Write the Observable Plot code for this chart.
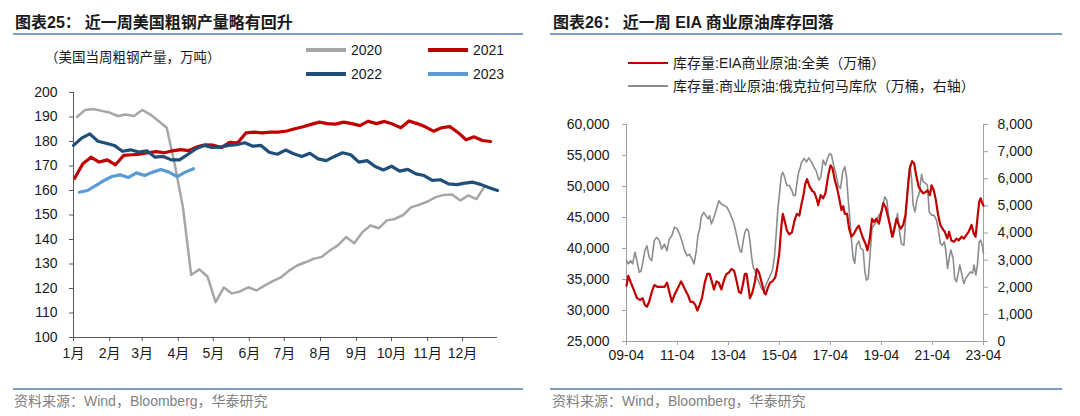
<!DOCTYPE html>
<html><head><meta charset="utf-8">
<script src="https://cdn.jsdelivr.net/npm/d3@7"></script>
<script src="https://cdn.jsdelivr.net/npm/@observablehq/plot@0.6"></script>
<style>
body{margin:0;background:#fff;}
#page{position:relative;width:1080px;height:416px;overflow:hidden;font-family:"Liberation Sans","Noto Sans CJK SC",sans-serif;color:#1a1a1a;background:#fff;}
.abs{position:absolute;}
.title{font-size:16px;font-weight:bold;white-space:nowrap;line-height:16px;}
.rule{height:1.5px;background:#7f9cc6;}
.sub{font-size:13.5px;white-space:nowrap;line-height:14px;}
.leg{font-size:14px;white-space:nowrap;line-height:14px;display:flex;align-items:center;}
.sw{display:inline-block;margin-right:5px;}
.foot{font-size:14px;color:#7f7f7f;white-space:nowrap;line-height:14px;}
.chart svg{overflow:visible;}
</style></head>
<body>
<div id="page">
  <div class="abs title" style="left:15px;top:15px;">图表25：<span style="margin-left:4px">近一周美国粗钢产量略有回升</span></div>
  <div class="abs rule" style="left:13px;top:33px;width:510px;"></div>
  <div class="abs sub" style="left:45px;top:51px;">（美国当周粗钢产量，万吨）</div>
  <div id="legL"></div>
  <div id="chartL" class="abs chart" style="left:0;top:80px;"></div>
  <div class="abs rule" style="left:13px;top:388px;width:510px;"></div>
  <div class="abs foot" style="left:14px;top:394px;">资料来源：Wind，Bloomberg，华泰研究</div>

  <div class="abs title" style="left:553px;top:15px;">图表26：<span style="margin-left:4px">近一周 EIA 商业原油库存回落</span></div>
  <div class="abs rule" style="left:550px;top:33px;width:512px;"></div>
  <div id="legR"></div>
  <div id="chartR" class="abs chart" style="left:540px;top:100px;"></div>
  <div class="abs rule" style="left:550px;top:388px;width:512px;"></div>
  <div class="abs foot" style="left:552px;top:394px;">资料来源：Wind，Bloomberg，华泰研究</div>
</div>
<script>
// ---------------- Left chart data (weekly US crude steel output, 万吨) ----------------
const monthLabels = ["1月","2月","3月","4月","5月","6月","7月","8月","9月","10月","11月","12月"];
const steelYTicks = [100,110,120,130,140,150,160,170,180,190,200];
const steelYears = ["2020","2021","2022","2023"];
const steelColors = ["#a6a6a6","#c00000","#1f4e79","#5b9bd5"];
const steelStart = ["01-04","01-02","01-01","01-06"]; // first week date of each series
const steel2020 = [190,192.9,193.3,192.5,191.8,190.4,191,190.4,192.9,191,
  188.4,185.6,170.5,153,125.5,127.8,124.9,114.4,120.4,118,
  118.8,120.5,119.2,121.2,123,124.5,127.3,129.4,130.7,132.1,
  132.9,135.5,137.6,141,138.5,143,145.7,144.6,147.8,148.4,
  150,153.2,154.2,155.5,157.3,158.2,158.4,155.9,158,156.5,161.8];
const steel2021 = [165,170.9,173.6,171.6,172.5,170.5,174.3,174.6,174.8,175.4,
  175.9,175.4,176.2,176.7,176.3,177.8,178.6,178.5,177.5,179.7,
  179.5,183.5,183.8,183.5,183.8,183.8,184.3,185.2,186,187,
  187.9,187.3,187.1,187.9,187.3,186.5,188.3,187.3,188.2,187.1,
  185.6,188.4,187.3,186,184.2,185.6,186.1,183.7,180.7,181.9,180.4,180];
const steel2022 = [178.4,181.4,183.1,180.1,179.3,178.4,176,176.6,175.7,176.2,
  173.6,173.9,172.5,172.5,174.7,177,178.4,177.6,177.7,178.4,
  178.7,179.5,178.1,178.4,175.6,174.8,176.5,175,173.9,175.2,
  172.9,172.2,173.9,175.4,174.6,171.6,172.2,169.8,168.4,169.9,
  167.9,168.6,166.8,166.1,164.1,164.4,162.7,162.4,163,163.4,162.4,161.1,160];
const steel2023 = [159.3,160,162,164,165.7,166.4,165.3,167.2,166.1,167.5,168.6,167.5,165.7,167.5,168.9];
const steelValues = [steel2020, steel2021, steel2022, steel2023];

// ---------------- Right chart data (crude inventories, 万桶) ----------------
const oilXTickYears = [2009,2011,2013,2015,2017,2019,2021,2023];
const oilXTickLabels = ["09-04","11-04","13-04","15-04","17-04","19-04","21-04","23-04"];
const oilLeftTicks = [25000,30000,35000,40000,45000,50000,55000,60000];
const oilRightTicks = [0,1000,2000,3000,4000,5000,6000,7000,8000];
const eiaT = [2009.25,2009.32,2009.42,2009.55,2009.66,2009.79,2009.88,2009.97,2010.05,2010.14,2010.24,2010.34,2010.47,2010.61,2010.74,2010.84,2010.93,
  2011.03,2011.13,2011.26,2011.39,2011.5,2011.59,2011.66,2011.76,2011.86,2011.95,2012.03,2012.12,2012.21,2012.32,2012.42,2012.51,2012.61,2012.68,2012.78,2012.87,2012.97,
  2013.08,2013.17,2013.26,2013.37,2013.47,2013.57,2013.66,2013.74,2013.83,2013.89,2013.96,2014.03,2014.09,2014.18,2014.29,2014.36,2014.45,2014.55,2014.66,2014.71,2014.79,2014.88,2014.97,
  2015.08,2015.14,2015.24,2015.32,2015.38,2015.45,2015.54,2015.63,2015.74,2015.84,2015.93,2016.03,2016.11,2016.2,2016.26,2016.33,2016.42,2016.53,2016.61,2016.7,2016.77,2016.86,2016.96,
  2017.05,2017.16,2017.25,2017.33,2017.42,2017.51,2017.59,2017.68,2017.75,2017.81,2017.9,2017.98,2018.07,2018.17,2018.27,2018.36,2018.44,2018.53,2018.62,2018.7,2018.79,2018.88,2018.96,
  2019.05,2019.15,2019.22,2019.32,2019.41,2019.49,2019.58,2019.67,2019.75,2019.84,2019.93,2020.01,2020.1,2020.19,2020.27,2020.36,2020.45,2020.53,2020.62,2020.71,2020.79,2020.88,2020.98,
  2021.05,2021.15,2021.21,2021.3,2021.38,2021.47,2021.56,2021.64,2021.73,2021.83,2021.9,2021.99,2022.09,2022.19,2022.28,2022.39,2022.48,2022.58,2022.67,2022.78,2022.87,2022.94,
  2023.01,2023.08,2023.14,2023.2,2023.25];
const eiaV = [34000,35600,34500,33200,32000,31700,32000,30900,30600,31400,33000,34100,33800,33800,33800,34500,33000,
  31400,32500,33600,34700,33800,33000,32500,31400,31400,30900,30000,30900,32000,34500,35900,35900,34500,33400,34700,34500,33400,
  35000,35900,36100,36700,36400,34700,33000,32800,34500,35900,35900,33800,32000,32800,34700,36700,36100,34500,32800,32600,33600,34500,34700,
  35300,36400,39100,43400,45600,44500,42900,42300,42600,44500,45600,45300,47100,48800,50400,51200,50100,49300,49100,48100,47000,48600,48100,
  48900,51800,53400,52900,51000,49700,48100,46200,46800,45600,45600,43200,41900,42400,43200,43700,42700,41600,40800,39700,41600,44800,44300,
  44800,44000,45400,47300,46700,45400,43800,41900,43200,44800,43800,43200,43800,45400,49100,52900,54100,53700,51600,49900,49400,48900,49100,
  49400,48600,50200,49400,47800,45400,43800,43200,42700,41600,42700,41300,41100,41600,41300,41900,41600,42200,42700,43800,42400,41900,
  44800,47500,48100,47300,46900];
const cushT = [2009.25,2009.32,2009.41,2009.49,2009.58,2009.66,2009.75,2009.82,2009.88,2009.97,2010.05,2010.14,2010.24,2010.34,2010.43,2010.54,2010.63,2010.74,2010.84,2010.93,
  2011.03,2011.13,2011.24,2011.33,2011.42,2011.53,2011.63,2011.72,2011.82,2011.9,2011.99,2012.05,2012.12,2012.18,2012.28,2012.36,2012.45,2012.51,2012.58,2012.68,2012.78,2012.87,2012.97,
  2013.08,2013.17,2013.26,2013.34,2013.43,2013.53,2013.61,2013.7,2013.76,2013.83,2013.89,2013.96,2014.03,2014.09,2014.16,2014.22,2014.29,2014.36,2014.42,2014.53,2014.62,2014.68,2014.79,2014.88,2014.97,
  2015.05,2015.12,2015.18,2015.25,2015.32,2015.38,2015.45,2015.54,2015.63,2015.74,2015.8,2015.87,2015.93,2016.0,2016.07,2016.11,2016.22,2016.31,2016.4,2016.5,2016.6,2016.7,2016.79,2016.87,2016.96,
  2017.05,2017.13,2017.22,2017.29,2017.37,2017.46,2017.55,2017.64,2017.73,2017.81,2017.88,2017.94,2018.01,2018.07,2018.14,2018.2,2018.27,2018.36,2018.44,2018.53,2018.6,2018.66,2018.73,2018.79,2018.88,2018.96,
  2019.05,2019.15,2019.25,2019.38,2019.46,2019.54,2019.62,2019.71,2019.8,2019.88,2019.94,2020.03,2020.13,2020.2,2020.3,2020.36,2020.43,2020.49,2020.56,2020.65,2020.73,2020.82,2020.88,2020.98,
  2021.05,2021.12,2021.21,2021.3,2021.41,2021.47,2021.56,2021.63,2021.71,2021.77,2021.84,2021.9,2021.97,2022.06,2022.12,2022.19,2022.26,2022.32,2022.39,2022.48,2022.56,2022.65,2022.74,2022.82,2022.88,2022.95,
  2023.01,2023.08,2023.14,2023.2,2023.25];
const cushV = [2980,2860,2980,2860,3290,2980,2550,2600,2860,3350,3530,3100,2980,3720,3840,3720,3410,3590,3350,3780,
  3900,4210,4150,3960,3720,3350,3160,3220,3040,2860,3350,3900,4150,4580,4760,4640,4520,4640,4330,4580,4890,5190,5070,
  5010,4970,4820,4640,4450,4090,3720,3350,3290,3720,4020,4150,4090,3720,3100,2730,2610,2360,2240,1990,1870,1990,2240,2420,2610,
  3100,3960,4820,5440,6120,6240,6060,5750,5750,5560,5380,5380,5810,6240,6420,6600,6750,6620,6770,6620,6440,6260,5950,6070,6690,
  6500,6750,6930,6870,6500,6190,5760,5640,6260,6440,6070,5270,4540,3740,3060,2880,3550,3700,3430,3370,2570,2260,2330,3060,4170,4290,
  4410,4660,4780,5330,5210,4540,4170,3860,4290,4720,4170,3610,3550,4540,6010,6500,6010,5030,4780,5270,5460,6160,5890,5830,
  5760,4780,4660,4660,4470,4170,3610,3550,3670,3370,2690,3060,3370,3060,2330,2200,2510,2820,2510,2140,2330,2450,2570,2510,2820,2450,
  2820,3670,3740,3550,3250];

// ---------------- helpers ----------------
const FONT = "'Liberation Sans','Noto Sans CJK SC',sans-serif";
function decYear(t){const y=Math.floor(t+1e-9);const s=Date.UTC(y,0,1),e=Date.UTC(y+1,0,1);return new Date(s+(t-y)*(e-s));}

// ---------------- Left legend ----------------
const legL = document.getElementById("legL");
const legPos = [[306,50],[428,50],[306,74],[428,74]];
steelYears.forEach((y,i)=>{
  const d=document.createElement("div");
  d.className="abs leg";
  d.style.left=legPos[i][0]+"px"; d.style.top=(legPos[i][1]-7)+"px";
  d.innerHTML=`<span class="sw" style="width:40px;height:3.5px;background:${steelColors[i]}"></span>${y}`;
  legL.appendChild(d);
});

// ---------------- Left chart ----------------
const steelData = [];
steelYears.forEach((yr,k)=>{
  const [m,d]=steelStart[k].split("-").map(Number);
  steelValues[k].forEach((v,i)=>steelData.push({year:yr, date:new Date(Date.UTC(2021,m-1,d+7*i)), value:v}));
});
const monthTicks = monthLabels.map((_,i)=>new Date(Date.UTC(2021,i,1)));
const xL0 = new Date(Date.UTC(2021,0,1)), xL1 = new Date(Date.UTC(2021,11,31));
const chartL = Plot.plot({
  width:540, height:287, marginTop:12, marginBottom:30, marginLeft:73, marginRight:43,
  style:{fontFamily:FONT, fontSize:"14px", color:"#1a1a1a", background:"transparent"},
  x:{type:"utc", domain:[xL0,xL1]},
  y:{domain:[100,200]},
  marks:[
    Plot.axisY({ticks:steelYTicks, label:null, tickSize:4, tickPadding:12, stroke:"#595959", tickFormat:d=>String(d)}),
    Plot.axisX({ticks:monthTicks, label:null, tickSize:4, tickPadding:7, stroke:"#595959", tickFormat:d=>monthLabels[d.getUTCMonth()]}),
    Plot.ruleX([xL0],{stroke:"#595959"}),
    Plot.ruleY([100],{stroke:"#595959"}),
    ...steelYears.map((yr,k)=>Plot.line(steelData.filter(d=>d.year===yr),{x:"date", y:"value", stroke:steelColors[k], strokeWidth:k===0?2.5:3.2, strokeLinejoin:"round"}))
  ]
});
document.getElementById("chartL").appendChild(chartL);

// ---------------- Right legend ----------------
const legR = document.getElementById("legR");
[["库存量:EIA商业原油:全美（万桶）","#c00000",2.5,63],["库存量:商业原油:俄克拉何马库欣（万桶，右轴）","#8c8c8c",1.6,86]].forEach(([t,c,w,y])=>{
  const d=document.createElement("div");
  d.className="abs leg";
  d.style.left="628px"; d.style.top=(y-7)+"px";
  d.innerHTML=`<span class="sw" style="width:40px;height:${w}px;background:${c}"></span>${t}`;
  legR.appendChild(d);
});

// ---------------- Right chart ----------------
const toLeft = v => 25000 + v*35000/8000;
const fromLeft = v => (v-25000)*8000/35000;
const eia = eiaT.map((t,i)=>({date:decYear(t), value:eiaV[i]}));
const cush = cushT.map((t,i)=>({date:decYear(t), value:cushV[i]}));
const xR0 = decYear(2009.25), xR1 = decYear(2023.25);
const fmt = d3.format(",");
const chartR = Plot.plot({
  width:540, height:271, marginTop:24, marginBottom:30, marginLeft:86, marginRight:97,
  style:{fontFamily:FONT, fontSize:"14px", color:"#1a1a1a", background:"transparent"},
  x:{type:"utc", domain:[xR0,xR1]},
  y:{domain:[25000,60000]},
  marks:[
    Plot.axisY({ticks:oilLeftTicks, anchor:"left", label:null, tickSize:4, tickPadding:13, stroke:"#a0a0a0", tickFormat:fmt}),
    Plot.axisY({ticks:oilRightTicks.map(toLeft), anchor:"right", label:null, tickSize:4, tickPadding:10, stroke:"#a0a0a0", tickFormat:d=>fmt(Math.round(fromLeft(d)))}),
    Plot.axisX({ticks:oilXTickYears.map(y=>new Date(Date.UTC(y,3,1))), label:null, tickSize:4, tickPadding:5, stroke:"#a0a0a0",
      tickFormat:d=>oilXTickLabels[oilXTickYears.indexOf(d.getUTCFullYear())]}),
    Plot.ruleX([xR0, xR1],{stroke:"#a0a0a0"}),
    Plot.ruleY([25000],{stroke:"#a0a0a0"}),
    Plot.line(cush,{x:"date", y:d=>toLeft(d.value), stroke:"#8c8c8c", strokeWidth:1.6, strokeLinejoin:"round"}),
    Plot.line(eia,{x:"date", y:"value", stroke:"#c00000", strokeWidth:2.2, strokeLinejoin:"round"})
  ]
});
document.getElementById("chartR").appendChild(chartR);
</script>
</body></html>
